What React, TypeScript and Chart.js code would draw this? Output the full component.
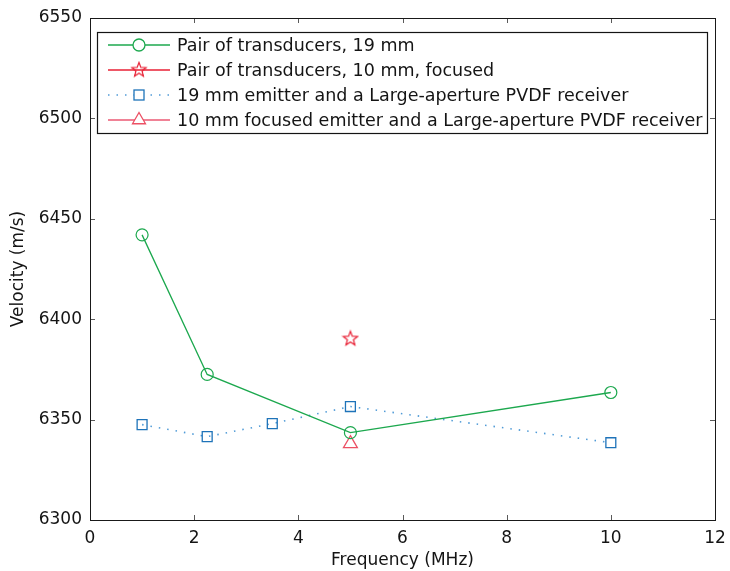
import React, { useEffect, useRef } from 'react';
import { Chart, registerables } from 'chart.js';

Chart.register(...registerables);

const seriesNames = [
  'Pair of transducers, 19 mm',
  'Pair of transducers, 10 mm, focused',
  '19 mm emitter and a Large-aperture PVDF receiver',
  '10 mm focused emitter and a Large-aperture PVDF receiver',
];

const pairX = [1, 2.25, 5, 10];
const pairY = [6442, 6372.5, 6343.5, 6363.5];
const focusedX = [5];
const focusedY = [6390.5];
const pvdfX = [1, 2.25, 3.5, 5, 10];
const pvdfY = [6347.5, 6341.5, 6348, 6356.5, 6338.5];
const focusedPvdfX = [5];
const focusedPvdfY = [6338];

const xTicks = [0, 2, 4, 6, 8, 10, 12];
const yTicks = [6300, 6350, 6400, 6450, 6500, 6550];

const GREEN = 'rgb(28,168,78)';
const RED = 'rgb(232,32,52)';
const BLUE = 'rgb(30,115,185)';
const BLUE_LINE = 'rgb(80,155,215)';
const PINK = 'rgb(236,80,100)';
const PINK_LINE = 'rgb(240,130,150)';
const FONT = '"DejaVu Sans", Arial, Helvetica, sans-serif';

function makeStar(color: string): HTMLCanvasElement {
  const c = document.createElement('canvas');
  c.width = 18;
  c.height = 18;
  const ctx = c.getContext('2d')!;
  ctx.strokeStyle = color;
  ctx.lineWidth = 1.2;
  ctx.beginPath();
  const cx = 9, cy = 9.5, ro = 7.5, ri = 3.2;
  for (let i = 0; i < 10; i++) {
    const r = i % 2 === 0 ? ro : ri;
    const a = -Math.PI / 2 + (i * Math.PI) / 5;
    const px = cx + r * Math.cos(a);
    const py = cy + r * Math.sin(a);
    if (i === 0) ctx.moveTo(px, py);
    else ctx.lineTo(px, py);
  }
  ctx.closePath();
  ctx.stroke();
  return c;
}

function zip(xs: number[], ys: number[]) {
  return xs.map((x, i) => ({ x, y: ys[i] }));
}

export default function App() {
  const ref = useRef<HTMLCanvasElement>(null);

  useEffect(() => {
    const star = makeStar(RED);

    const framePlugin = {
      id: 'frameLegend',
      afterDraw(chart: any) {
        const { ctx, chartArea } = chart;
        const { left, right, top, bottom } = chartArea;
        const xs = chart.scales.x;
        const ys = chart.scales.y;
        ctx.save();
        // ticks inside
        ctx.strokeStyle = 'rgb(90,90,90)';
        ctx.lineWidth = 1;
        const tl = 5;
        ctx.beginPath();
        xTicks.forEach((t) => {
          const px = Math.round(xs.getPixelForValue(t)) + 0.5;
          ctx.moveTo(px, bottom);
          ctx.lineTo(px, bottom - tl);
          ctx.moveTo(px, top);
          ctx.lineTo(px, top + tl);
        });
        yTicks.forEach((t) => {
          const py = Math.round(ys.getPixelForValue(t)) + 0.5;
          ctx.moveTo(left, py);
          ctx.lineTo(left + tl, py);
          ctx.moveTo(right, py);
          ctx.lineTo(right - tl, py);
        });
        ctx.stroke();
        // frame
        ctx.strokeStyle = 'rgb(25,25,25)';
        ctx.lineWidth = 1;
        ctx.strokeRect(Math.round(left) + 0.5, Math.round(top) + 0.5, Math.round(right - left), Math.round(bottom - top));

        // legend
        ctx.font = `17.5px ${FONT}`;
        let maxW = 0;
        seriesNames.forEach((n) => {
          maxW = Math.max(maxW, ctx.measureText(n).width);
        });
        const bx = left + 7;
        const by = top + 14;
        const bw = 80 + maxW + 4;
        const bh = 101;
        ctx.fillStyle = '#fff';
        ctx.fillRect(bx, by, bw, bh);
        ctx.strokeStyle = 'rgb(20,20,20)';
        ctx.lineWidth = 1.2;
        ctx.strokeRect(Math.round(bx) + 0.5, Math.round(by) + 0.5, Math.round(bw), bh);
        const rows = [13, 38, 63, 88];
        const lineColors = [GREEN, RED, BLUE_LINE, PINK_LINE];
        rows.forEach((dy, i) => {
          const y = by + dy;
          const x0 = bx + 11;
          const x1 = bx + 73;
          const mx = bx + 42;
          ctx.strokeStyle = lineColors[i];
          ctx.lineWidth = i === 3 ? 2 : 1.3;
          if (i === 2) ctx.setLineDash([1.5, 7]);
          else ctx.setLineDash([]);
          ctx.beginPath();
          ctx.moveTo(x0, y);
          ctx.lineTo(x1, y);
          ctx.stroke();
          ctx.setLineDash([]);
          ctx.lineWidth = 1.3;
          if (i === 0) {
            ctx.fillStyle = '#fff';
            ctx.strokeStyle = GREEN;
            ctx.beginPath();
            ctx.arc(mx, y, 6, 0, Math.PI * 2);
            ctx.fill();
            ctx.stroke();
          } else if (i === 1) {
            ctx.drawImage(star, mx - 9, y - 9.5);
          } else if (i === 2) {
            ctx.fillStyle = '#fff';
            ctx.strokeStyle = BLUE;
            ctx.fillRect(mx - 5, y - 5, 10, 10);
            ctx.strokeRect(mx - 5, y - 5, 10, 10);
          } else {
            ctx.fillStyle = '#fff';
            ctx.strokeStyle = PINK;
            const r = 7.5;
            ctx.beginPath();
            ctx.moveTo(mx, y - r);
            ctx.lineTo(mx + r * Math.sin((2 * Math.PI) / 3), y - r * Math.cos((2 * Math.PI) / 3));
            ctx.lineTo(mx + r * Math.sin((4 * Math.PI) / 3), y - r * Math.cos((4 * Math.PI) / 3));
            ctx.closePath();
            ctx.fill();
            ctx.stroke();
          }
          ctx.fillStyle = 'rgb(20,20,20)';
          ctx.textBaseline = 'middle';
          ctx.textAlign = 'left';
          ctx.fillText(seriesNames[i], bx + 80, y + 1);
        });
        ctx.restore();
      },
    };

    const chart = new Chart(ref.current!, {
      type: 'line',
      data: {
        datasets: [
          {
            label: seriesNames[0],
            data: zip(pairX, pairY),
            borderColor: GREEN,
            borderWidth: 1.3,
            pointStyle: 'circle',
            pointRadius: 6,
            pointBorderWidth: 1.2,
            pointBorderColor: GREEN,
            pointBackgroundColor: 'rgba(0,0,0,0)',
            showLine: true,
            tension: 0,
          },
          {
            label: seriesNames[1],
            data: zip(focusedX, focusedY),
            borderColor: RED,
            pointStyle: star as any,
            pointRadius: 7,
            showLine: false,
          },
          {
            label: seriesNames[2],
            data: zip(pvdfX, pvdfY),
            borderColor: BLUE_LINE,
            borderWidth: 1.6,
            borderDash: [1.5, 7],
            pointStyle: 'rect',
            pointRadius: 7,
            pointBorderWidth: 1.3,
            pointBorderColor: BLUE,
            pointBackgroundColor: 'rgba(0,0,0,0)',
            showLine: true,
            tension: 0,
          },
          {
            label: seriesNames[3],
            data: zip(focusedPvdfX, focusedPvdfY),
            borderColor: PINK,
            pointStyle: 'triangle',
            pointRadius: 8,
            pointBorderWidth: 1.3,
            pointBorderColor: PINK,
            pointBackgroundColor: 'rgba(0,0,0,0)',
            showLine: false,
          },
        ],
      },
      options: {
        responsive: false,
        animation: false,
        layout: { padding: { top: 18, right: 15, left: 0, bottom: 0 } },
        plugins: {
          legend: { display: false },
          tooltip: { enabled: false },
        },
        scales: {
          x: {
            type: 'linear',
            min: 0,
            max: 12,
            afterBuildTicks: (s: any) => {
              s.ticks = xTicks.map((v) => ({ value: v }));
            },
            afterFit: (s: any) => {
              s.height = 51;
              s.paddingRight = 0;
              s.paddingLeft = 0;
            },
            grid: { display: false, drawTicks: false },
            border: { display: false },
            ticks: {
              color: 'rgb(20,20,20)',
              font: { family: FONT, size: 17 },
              padding: 8,
              maxRotation: 0,
              callback: (v: any) => String(v),
            },
            title: {
              display: true,
              text: 'Frequency (MHz)',
              color: 'rgb(20,20,20)',
              font: { family: FONT, size: 17 },
              padding: { top: 0, bottom: 0 },
            },
          },
          y: {
            type: 'linear',
            min: 6300,
            max: 6550,
            afterBuildTicks: (s: any) => {
              s.ticks = yTicks.map((v) => ({ value: v }));
            },
            afterFit: (s: any) => {
              s.width = 90;
              s.paddingTop = 0;
              s.paddingBottom = 0;
            },
            grid: { display: false, drawTicks: false },
            border: { display: false },
            ticks: {
              color: 'rgb(20,20,20)',
              font: { family: FONT, size: 17 },
              padding: 8,
              callback: (v: any) => String(v),
            },
            title: {
              display: true,
              text: 'Velocity (m/s)',
              color: 'rgb(20,20,20)',
              font: { family: FONT, size: 17 },
              padding: { top: 8, bottom: 0 },
            },
          },
        },
      },
      plugins: [framePlugin],
    });
    return () => chart.destroy();
  }, []);

  return (
    <div style={{ position: 'absolute', left: 0, top: 0, width: 730, height: 571, background: '#fff' }}>
      <canvas ref={ref} width={730} height={571} style={{ display: 'block' }} />
    </div>
  );
}
